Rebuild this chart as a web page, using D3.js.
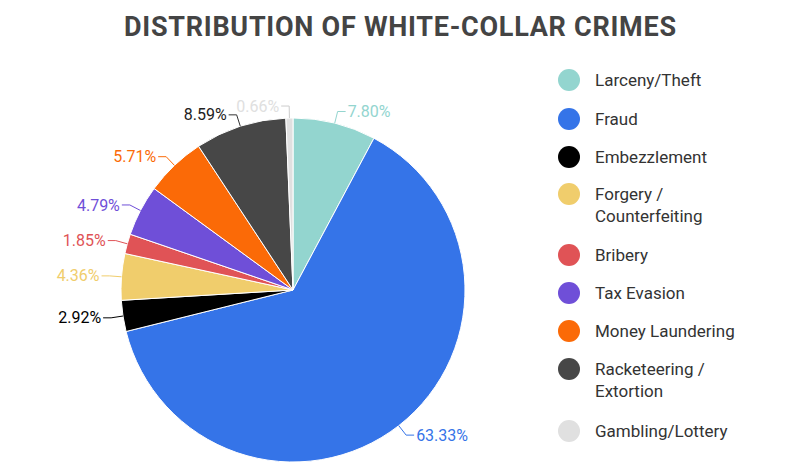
<!DOCTYPE html>
<html>
<head>
<meta charset="utf-8">
<script src="https://cdn.jsdelivr.net/npm/d3@7"></script>
<style>
  body { margin: 0; background: #fff; }
  text { font-family: Roboto, "Noto Sans", sans-serif; }
</style>
</head>
<body>
<div id="chart"></div>
<script>
const width = 800, height = 470;

const categories = ["Larceny/Theft", "Fraud", "Embezzlement", "Forgery / Counterfeiting", "Bribery",
  "Tax Evasion", "Money Laundering", "Racketeering / Extortion", "Gambling/Lottery"];
const values = [7.80, 63.33, 2.92, 4.36, 1.85, 4.79, 5.71, 8.59, 0.66];
const colors = ["#93d5cf", "#3574e8", "#000000", "#f0cd6c", "#e05356", "#6f4fd8", "#fb6a07", "#474747", "#e0e0e0"];
const legendLines = [["Larceny/Theft"], ["Fraud"], ["Embezzlement"], ["Forgery /", "Counterfeiting"], ["Bribery"],
  ["Tax Evasion"], ["Money Laundering"], ["Racketeering /", "Extortion"], ["Gambling/Lottery"]];

const data = categories.map((c, i) => ({ name: c, value: values[i], color: colors[i], lines: legendLines[i] }));

const svg = d3.select("#chart").append("svg")
  .attr("width", width).attr("height", height);

svg.append("text")
  .attr("x", 400).attr("y", 36)
  .attr("text-anchor", "middle")
  .attr("font-size", 27).attr("font-weight", 700)
  .attr("fill", "#444")
  .attr("textLength", 552)
  .text("DISTRIBUTION OF WHITE-COLLAR CRIMES");

const cx = 293, cy = 290, r = 172;
const g = svg.append("g").attr("transform", `translate(${cx},${cy})`);

const pie = d3.pie().sort(null).value(d => d.value);
const arc = d3.arc().innerRadius(0).outerRadius(r);
const arcs = pie(data);

g.selectAll("path.slice").data(arcs).join("path")
  .attr("class", "slice")
  .attr("d", arc)
  .attr("fill", d => d.data.color)
  .attr("stroke", "#fff")
  .attr("stroke-width", 1);

// labels with leader lines
arcs.forEach(d => {
  const a = (d.startAngle + d.endAngle) / 2;
  const p0 = [Math.sin(a) * r, -Math.cos(a) * r];
  const p1 = [Math.sin(a) * (r + 12), -Math.cos(a) * (r + 12)];
  const right = Math.sin(a) >= 0;
  const p2 = [p1[0] + (right ? 8 : -8), p1[1]];
  const textColor = d.data.color === "#e0e0e0" ? "#e0e0e0" : d.data.color;
  g.append("polyline")
    .attr("points", [p0, p1, p2].map(p => p.join(",")).join(" "))
    .attr("fill", "none")
    .attr("stroke", d.data.color === "#e0e0e0" ? "#ccc" : (d.data.color === "#474747" ? "#333" : d.data.color))
    .attr("stroke-width", 1);
  g.append("text")
    .attr("x", p2[0] + (right ? 2 : -2))
    .attr("y", p2[1])
    .attr("dy", "0.35em")
    .attr("text-anchor", right ? "start" : "end")
    .attr("font-size", 16)
    .attr("fill", d.data.color === "#474747" ? "#222" : textColor)
    .text(d.data.value.toFixed(2) + "%");
});

// legend
const legendY = [80, 119, 157, 194, 255, 293, 331, 369, 431];
const legend = svg.append("g");
data.forEach((d, i) => {
  const y = legendY[i];
  legend.append("circle")
    .attr("cx", 569).attr("cy", y).attr("r", 11)
    .attr("fill", d.color);
  d.lines.forEach((ln, j) => {
    legend.append("text")
      .attr("x", 595).attr("y", y + j * 22)
      .attr("dy", "0.35em")
      .attr("font-size", 17)
      .attr("fill", "#333")
      .text(ln);
  });
});
</script>
</body>
</html>
